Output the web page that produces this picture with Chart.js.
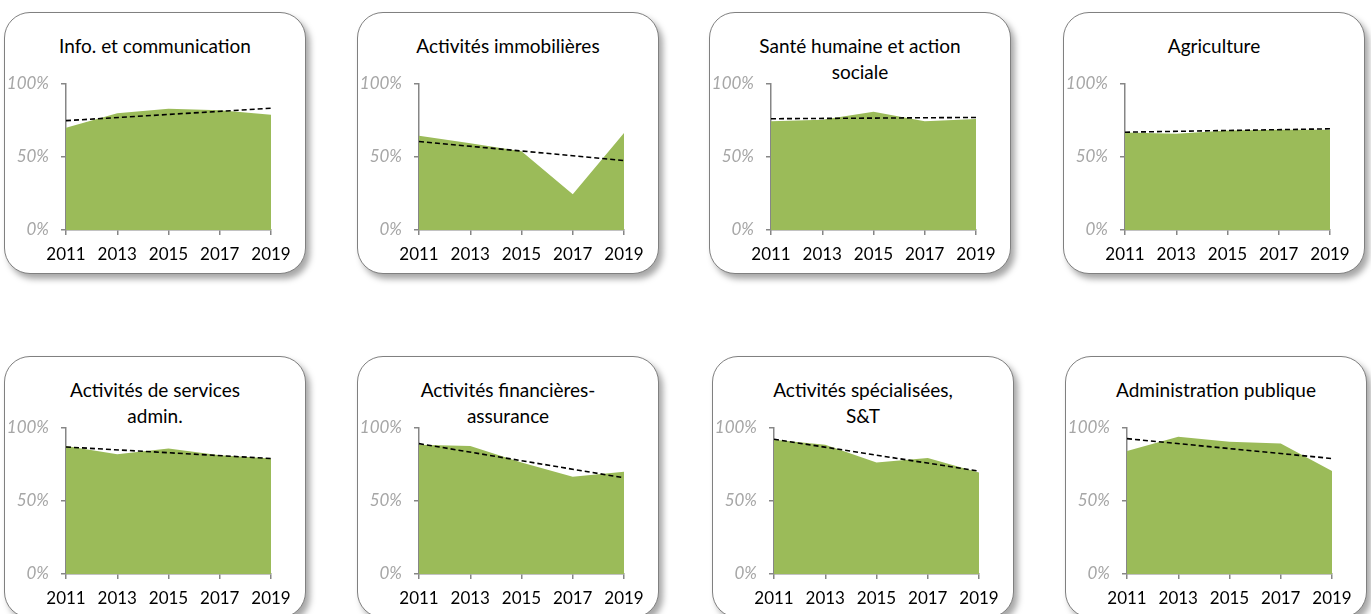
<!DOCTYPE html>
<html>
<head>
<meta charset="utf-8">
<script src="https://cdn.jsdelivr.net/npm/chart.js@4/dist/chart.umd.min.js"></script>
<style>
  body { margin: 0; background: #fff; width: 1371px; height: 614px; overflow: hidden; position: relative; font-family: Lato, sans-serif; }
  .panel {
    position: absolute; width: 302px; height: 262px;
    border: 1.6px solid #808080; border-radius: 26px; background: #fff;
    box-shadow: 4px 5px 6px rgba(0,0,0,0.35);
    box-sizing: border-box;
  }
  .panel canvas { position: absolute; left: -1.6px; top: -1.6px; }
  .panel .ttl {
    position: absolute; left: 0; width: 100%; top: 20px;
    text-align: center; font-size: 19px; line-height: 26px; color: #000;
  }
</style>
</head>
<body>
<script>
// years shown on the axis
var years = ["2011", "2013", "2015", "2017", "2019"];

// sector names
var titles = [
  "Info. et communication",
  "Activités immobilières",
  "Santé humaine et action<br>sociale",
  "Agriculture",
  "Activités de services<br>admin.",
  "Activités financières-<br>assurance",
  "Activités spécialisées,<br>S&amp;T",
  "Administration publique"
];

// series values (%)
var infoCom     = [70, 80, 83, 82, 79];
var immobilier  = [64.5, 59.5, 54, 24.5, 66.5];
var sante       = [74.5, 75.5, 81, 74.5, 76];
var agriculture = [66.8, 66, 68.2, 68.6, 68.6];
var servAdmin   = [87.7, 82, 86, 81.4, 79.1];
var finance     = [88.6, 87.7, 76.4, 66.6, 70];
var specialise  = [92, 88.6, 76.4, 79.5, 69.5];
var adminPub    = [84.3, 94, 90.5, 89.3, 70.5];

// trend line end points (2011, 2019)
var trendInfo   = [74.9, 83.4];
var trendImmo   = [60.6, 47.6];
var trendSante  = [76.2, 77.1];
var trendAgri   = [67, 69.3];
var trendServ   = [87, 79.1];
var trendFin    = [89.3, 65.9];
var trendSpec   = [92.3, 70.5];
var trendAdmin  = [92.7, 79.1];

var yTicks = [0, 50, 100];

var series = [infoCom, immobilier, sante, agriculture, servAdmin, finance, specialise, adminPub];
var trends = [trendInfo, trendImmo, trendSante, trendAgri, trendServ, trendFin, trendSpec, trendAdmin];

var lefts = [4, 357, 709, 1063, 4, 357, 712, 1065];
var tops = [12, 12, 12, 12, 356, 356, 356, 356];

for (var i = 0; i < 8; i++) {
  var div = document.createElement("div");
  div.className = "panel";
  div.style.left = lefts[i] + "px";
  div.style.top = tops[i] + "px";
  var t = document.createElement("div");
  t.className = "ttl";
  t.innerHTML = titles[i];
  div.appendChild(t);
  var cv = document.createElement("canvas");
  cv.width = 302; cv.height = 262;
  div.appendChild(cv);
  document.body.appendChild(div);
  makeChart(cv, series[i], trends[i]);
}

function makeChart(cv, values, trend) {
  new Chart(cv, {
    type: 'line',
    data: {
      labels: years,
      datasets: [{
        data: [{x: years[0], y: trend[0]}, {x: years[years.length - 1], y: trend[1]}],
        borderColor: '#000',
        borderWidth: 1.6,
        borderDash: [5, 3],
        pointRadius: 0,
        fill: false,
        order: 0
      }, {
        data: values,
        backgroundColor: '#9BBB59',
        borderWidth: 0,
        borderColor: 'rgba(0,0,0,0)',
        pointRadius: 0,
        fill: 'origin',
        tension: 0,
        order: 1
      }]
    },
    options: {
      responsive: false,
      animation: false,
      events: [],
      layout: { padding: { top: 73, right: 34, left: 0, bottom: 0 } },
      plugins: { legend: { display: false }, tooltip: { enabled: false }, title: { display: false } },
      scales: {
        x: {
          offset: false,
          afterFit: function(s) { s.height = 43; },
          border: { display: true, color: '#868686', width: 1.5 },
          grid: { display: true, drawOnChartArea: false, drawTicks: true, tickLength: 5, color: '#868686', lineWidth: 1.5, offset: false },
          ticks: { color: '#000', font: { family: 'Lato', size: 17 }, padding: 9, maxRotation: 0, autoSkip: false }
        },
        y: {
          min: 0, max: 100,
          afterFit: function(s) { s.width = 63; },
          afterBuildTicks: function(s) { s.ticks = yTicks.map(function(v) { return {value: v}; }); },
          border: { display: true, color: '#868686', width: 1.5 },
          grid: { display: true, drawOnChartArea: false, drawTicks: true, tickLength: 5, color: '#868686', lineWidth: 1.5 },
          ticks: {
            color: '#A6A6A6', padding: 12,
            font: { family: 'Lato', size: 17, style: 'italic' },
            callback: function(v) { return v + '%'; }
          }
        }
      }
    }
  });
}
</script>
</body>
</html>
